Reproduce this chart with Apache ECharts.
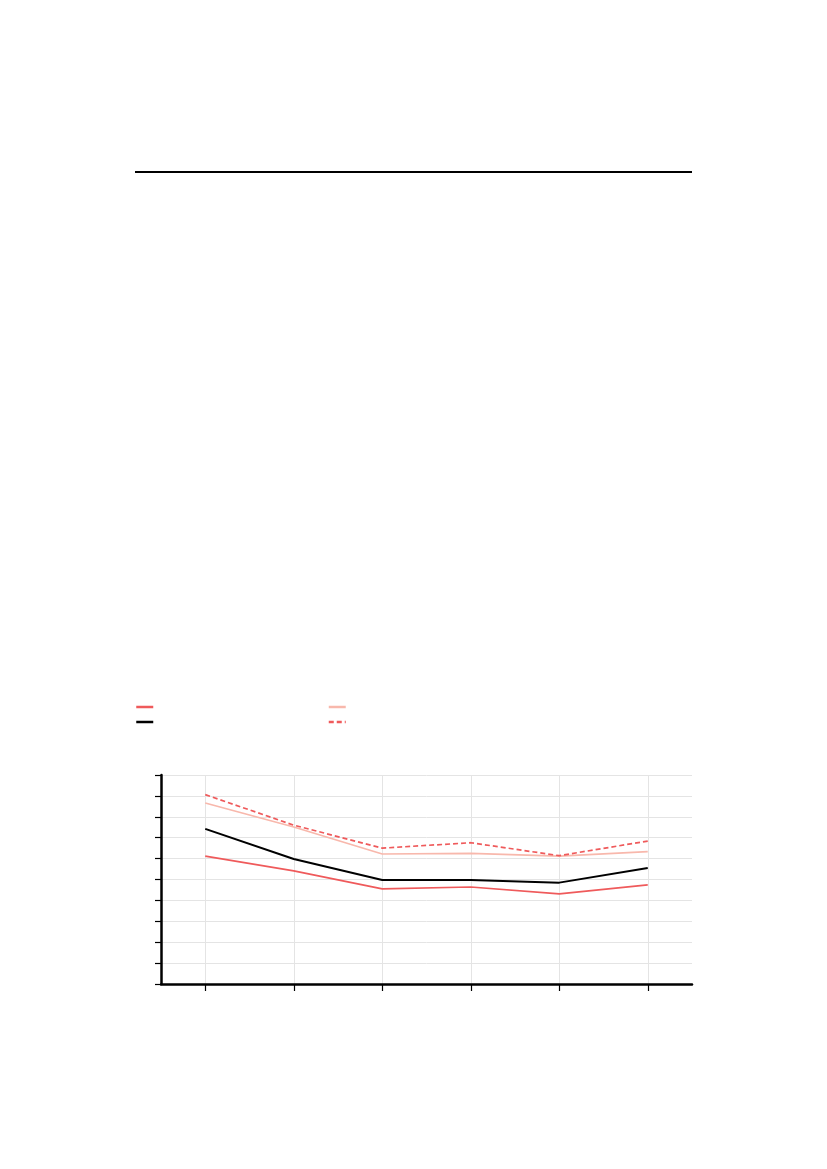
<!DOCTYPE html>
<html>
<head>
<meta charset="utf-8">
<script src="https://cdn.jsdelivr.net/npm/echarts@6/dist/echarts.min.js"></script>
<style>
html, body { margin: 0; padding: 0; background: #fff; }
#chart { width: 827px; height: 1169px; }
</style>
</head>
<body>
<div id="chart"></div>
<script>
// 数据
var categories = ["A", "B", "C", "D", "E", "F"];
var serie_red = [6.12, 5.41, 4.55, 4.64, 4.31, 4.74];
var serie_black = [7.42, 5.98, 4.98, 4.98, 4.85, 5.55];
var serie_pink = [8.66, 7.51, 6.22, 6.25, 6.12, 6.33];
var serie_dash = [9.06, 7.6, 6.5, 6.76, 6.14, 6.84];
var y_min = 0, y_max = 10, y_step = 1;

var chart = echarts.init(document.getElementById("chart"));

function line(name, data, color, width, type) {
	return {
		name: name,
		type: "line",
		data: data,
		symbol: "none",
		lineStyle: { color: color, width: width, type: type || "solid" },
		itemStyle: { color: color }
	};
}

var series = [
	line("s1", serie_red, "#ef5a5b", 1.7),
	line("s2", serie_pink, "#f8b8ac", 1.7),
	line("s3", serie_black, "#000000", 2),
	line("s4", serie_dash, "#ef5a5b", 1.7, [5, 3])
];
// 竖直网格线放在类目中心
series[0].markLine = {
	silent: true,
	symbol: "none",
	label: { show: false },
	z: 1,
	lineStyle: { color: "#e4e4e4", width: 1, type: "solid" },
	data: categories.map(function (c) { return { xAxis: c }; })
};

var legend_base = {
	orient: "horizontal",
	padding: 0,
	itemWidth: 17,
	itemHeight: 8,
	itemGap: 173,
	formatter: function () { return ""; },
	textStyle: { fontSize: 1 },
	itemStyle: { opacity: 0 },
	lineStyle: { width: 2.5 },
	selectedMode: false
};

chart.setOption({
	animation: false,
	backgroundColor: "#fff",
	graphic: [{
		type: "line",
		shape: { x1: 135, y1: 172, x2: 692, y2: 172 },
		style: { stroke: "#000", lineWidth: 2 }
	}],
	legend: [
		Object.assign({}, legend_base, { left: 135, top: 703, data: ["s1", "s2"] }),
		Object.assign({}, legend_base, { left: 135, top: 718, data: ["s3", "s4"] })
	],
	grid: { left: 161, right: 135, top: 775, bottom: 185 },
	xAxis: {
		type: "category",
		data: categories,
		boundaryGap: true,
		z: 5,
		axisLine: { show: true, lineStyle: { color: "#000", width: 2.5 } },
		axisTick: { show: true, inside: false, alignWithLabel: true, length: 7, lineStyle: { color: "#000", width: 1.2 } },
		axisLabel: { show: false },
		splitLine: { show: false }
	},
	yAxis: {
		type: "value",
		min: y_min,
		max: y_max,
		interval: y_step,
		axisLine: { show: true, lineStyle: { color: "#000", width: 2.5 } },
		axisTick: { show: true, length: 6, lineStyle: { color: "#000", width: 1.2 } },
		axisLabel: { show: false },
		splitLine: { lineStyle: { color: "#e4e4e4", width: 1 } }
	},
	series: series
});
window.addEventListener("resize", chart.resize);
</script>
</body>
</html>
